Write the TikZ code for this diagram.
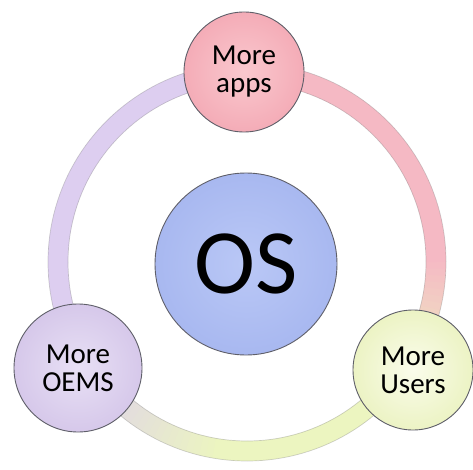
\documentclass[tikz,border=0pt]{standalone}
\usepackage{fontspec}
\setmainfont{Carlito}
\definecolor{rpink}{RGB}{245,185,196}
\definecolor{rlav}{RGB}{221,206,240}
\definecolor{ryellow}{RGB}{236,245,192}
\definecolor{apppink}{RGB}{244,172,183}
\definecolor{apppinklt}{RGB}{250,200,206}
\definecolor{oemlav}{RGB}{214,200,234}
\definecolor{oemlavlt}{RGB}{232,224,245}
\definecolor{usrgreen}{RGB}{236,243,196}
\definecolor{usrgreenlt}{RGB}{250,252,235}
\definecolor{osblue}{RGB}{168,184,240}
\definecolor{osbluelt}{RGB}{186,200,246}
\definecolor{edge}{RGB}{95,95,105}
\tikzset{
  ringseg/.style={line width=20pt},
  ringedge/.style={draw=gray, line width=0.7pt, opacity=0.35},
  bubble/.style={circle, draw=edge, line width=0.9pt, inner sep=0pt, align=center,
    font=\fontsize{29}{28}\selectfont, text=black},
}
\begin{document}
\begin{tikzpicture}[x=1pt,y=1pt]
\useasboundingbox (0,0) rectangle (473,469);
\fill[white] (0,0) rectangle (473,469);
\coordinate (c) at (247,207);
% ring
\foreach \a in {-40,-38,...,88}{
  \pgfmathtruncatemacro\p{max(0,min(100,(\a+40)*2.5))}
  \draw[ringseg, draw=rpink!\p!ryellow] ([shift={(\a:189pt)}]c) arc[start angle=\a, end angle=\a+2.4, radius=189pt];
}
\foreach \a in {90,92,...,208}{
  \pgfmathtruncatemacro\p{max(0,min(100,(\a-92)*100/14))}
  \draw[ringseg, draw=rlav!\p!rpink] ([shift={(\a:189pt)}]c) arc[start angle=\a, end angle=\a+2.4, radius=189pt];
}
\foreach \a in {210,212,...,318}{
  \pgfmathtruncatemacro\p{max(0,min(100,(\a-210)*2))}
  \draw[ringseg, draw=ryellow!\p!rlav] ([shift={(\a:189pt)}]c) arc[start angle=\a, end angle=\a+2.4, radius=189pt];
}
\draw[ringedge] (c) circle[radius=199pt];
\draw[ringedge] (c) circle[radius=179pt];
% bubbles
\node[bubble, minimum size=120pt, inner color=apppinklt, outer color=apppink] (apps) at (244,397) {More\\apps};
\node[bubble, minimum size=128pt, inner color=oemlavlt, outer color=oemlav] (oems) at (78,101) {More\\OEMS};
\node[bubble, minimum size=120pt, inner color=usrgreenlt, outer color=usrgreen] (users) at (413,99) {More\\Users};
\node[bubble, minimum size=182pt, inner color=osbluelt, outer color=osblue, font=\fontsize{92}{92}\selectfont] (os) at (246,205) {OS};
\end{tikzpicture}
\end{document}
